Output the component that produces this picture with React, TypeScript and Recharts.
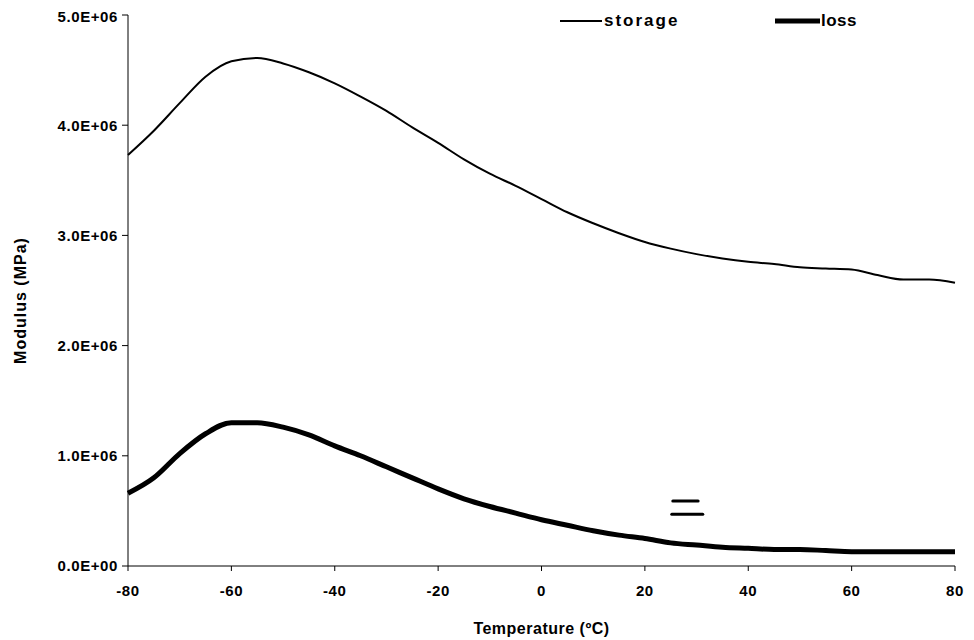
import React from 'react';
import { LineChart, Line, XAxis, YAxis, ReferenceLine } from 'recharts';

const temps = [
	-80, -75, -70, -65, -60, -55, -50, -45, -40, -35, -30, -25, -20, -15, -10, -5, 0,
	5, 10, 15, 20, 25, 30, 35, 40, 45, 50, 55, 60, 65, 70, 75, 80,
];

// modulus values in units of 1E+06
const storage = [
	3.73, 3.95, 4.2, 4.44, 4.58, 4.61, 4.56, 4.48, 4.38, 4.26, 4.13, 3.98, 3.84, 3.69, 3.56, 3.45, 3.33,
	3.21, 3.11, 3.02, 2.94, 2.88, 2.83, 2.79, 2.76, 2.74, 2.71, 2.7, 2.69, 2.64, 2.6, 2.6, 2.57,
];
const loss = [
	0.66, 0.8, 1.02, 1.2, 1.3, 1.3, 1.26, 1.19, 1.09, 1.0, 0.9, 0.8, 0.7, 0.61, 0.54, 0.48, 0.42,
	0.37, 0.32, 0.28, 0.25, 0.21, 0.19, 0.17, 0.16, 0.15, 0.15, 0.14, 0.13, 0.13, 0.13, 0.13, 0.13,
];

const xTicks = [-80, -60, -40, -20, 0, 20, 40, 60, 80];
const yTicks = [0, 1e6, 2e6, 3e6, 4e6, 5e6];

// stray marks in the scanned figure, near 25-31 ºC
const marks = [
	{ x1: 25.4, x2: 30.3, y: 0.59e6 },
	{ x1: 25.2, x2: 31.2, y: 0.47e6 },
];

const data = temps.map((t, i) => ({
	temp: t,
	storage: storage[i] * 1e6,
	loss: loss[i] * 1e6,
}));

const FONT = '"Liberation Sans", Arial, sans-serif';

const sciFormat = (v: number) => {
	if (v === 0) return '0.0E+00';
	const e = Math.floor(Math.log10(Math.abs(v)));
	const m = v / Math.pow(10, e);
	return `${m.toFixed(1)}E+${String(e).padStart(2, '0')}`;
};

const tickStyle = { fontFamily: FONT, fontWeight: 'bold', fontSize: 15, fill: '#000', letterSpacing: 0.6 };
const labelStyle = { fontFamily: FONT, fontWeight: 'bold', fontSize: 16, fill: '#000', letterSpacing: 0.5 };

const yLabel = (props: any) => {
	const { viewBox } = props;
	const cx = 12;
	const cy = viewBox.y + viewBox.height / 2 + 10;
	return (
		<text
			x={cx}
			y={cy}
			transform={`rotate(-90, ${cx}, ${cy})`}
			textAnchor="middle"
			dominantBaseline="central"
			style={{ ...labelStyle, letterSpacing: 1 }}
		>
			Modulus (MPa)
		</text>
	);
};

// legend drawn over the chart so it takes no room from the plot
const ChartLegend = () => (
	<div
		style={{
			position: 'absolute',
			top: 3,
			left: 552,
			display: 'flex',
			alignItems: 'center',
			fontFamily: FONT,
			fontWeight: 'bold',
			fontSize: 17,
			letterSpacing: 2,
			lineHeight: '20px',
		}}
	>
		<svg width={42} height={10}>
			<line x1={0} y1={5} x2={42} y2={5} stroke="#000" strokeWidth={2} />
		</svg>
		<span style={{ marginLeft: 2, width: 171 }}>storage</span>
		<svg width={45} height={10}>
			<line x1={0} y1={5} x2={45} y2={5} stroke="#000" strokeWidth={5} />
		</svg>
		<span style={{ marginLeft: 1, letterSpacing: 0.5 }}>loss</span>
	</div>
);

const App = () => {
	return (
		<div style={{ position: 'relative', width: 966, height: 632 }}>
			<LineChart width={966} height={632} data={data} margin={{ top: 7, right: 19, left: 0, bottom: 0 }}>
				<XAxis
					dataKey="temp"
					type="number"
					domain={[-80, 80]}
					ticks={xTicks}
					tick={tickStyle}
					tickSize={5}
					tickMargin={14}
					stroke="#000"
					height={74}
					label={{ value: 'Temperature (ºC)', position: 'insideBottom', offset: 6, style: labelStyle }}
				/>
				<YAxis
					type="number"
					domain={[0, 5e6]}
					ticks={yTicks}
					tickFormatter={sciFormat}
					tick={tickStyle}
					tickSize={6}
					tickMargin={4}
					stroke="#000"
					width={120}
					label={yLabel}
				/>
				{marks.map((m, i) => (
					<ReferenceLine
						key={i}
						segment={[{ x: m.x1, y: m.y }, { x: m.x2, y: m.y }]}
						stroke="#000"
						strokeWidth={3}
						strokeLinecap="round"
					/>
				))}
				<Line type="monotone" dataKey="storage" stroke="#000" strokeWidth={2} dot={false} isAnimationActive={false} />
				<Line type="monotone" dataKey="loss" stroke="#000" strokeWidth={5} dot={false} isAnimationActive={false} />
			</LineChart>
			<ChartLegend />
		</div>
	);
};

export default App;
